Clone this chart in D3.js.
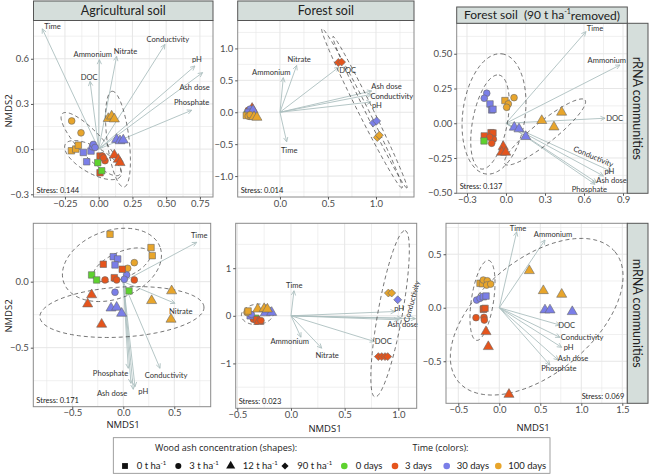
<!DOCTYPE html>
<html><head><meta charset="utf-8">
<script src="https://cdn.jsdelivr.net/npm/d3@7"></script>
<style>
body{margin:0;background:#fff}
svg{font-family:Lato,"Open Sans",sans-serif;font-weight:400}
text{font-weight:400}
</style>
</head><body>
<svg id="c" width="650" height="475"></svg>
<script>
// ---------- DATA ----------
// levels
const ashLevels = ["0", "3", "12", "90"];              // t ha-1 (shape)
const dayLevels = ["0 days", "3 days", "30 days", "100 days"]; // colour
const dayColors = ["#5ed22e", "#e5541c", "#7a7ee8", "#e8a52b"];

// points: [NMDS1, NMDS2, ashIndex, dayIndex]
const agriRrnaPts = [
  [-0.200,0.187,1,3],[-0.131,0.108,1,3],
  [-0.202,-0.011,0,3],[-0.170,0.000,0,3],[-0.151,0.026,0,3],
  [0.071,0.203,2,3],[0.096,0.219,2,3],[0.116,0.200,2,3],
  [-0.114,-0.022,0,2],[-0.057,-0.013,0,2],[-0.089,-0.084,0,2],
  [-0.047,0.015,1,2],[-0.040,0.031,1,2],[-0.027,0.011,1,2],
  [0.133,0.064,2,2],[0.158,0.055,2,2],[0.182,0.060,2,2],
  [0.010,-0.046,0,1],[0.010,-0.157,0,1],
  [0.027,-0.046,1,1],[0.047,-0.077,1,1],[0.035,-0.058,1,1],
  [0.116,-0.040,2,1],[0.145,-0.068,2,1],[0.158,-0.090,2,1],
  [-0.007,-0.090,0,0],[0.022,-0.144,0,0]
];
const forestRrnaPts = [
  [-0.34,-0.03,0,0],
  [-0.33,0.03,1,1],[-0.31,0.01,0,1],[-0.29,0.06,2,1],
  [-0.31,0.05,1,2],[-0.33,0.00,0,2],[-0.28,0.03,2,2],
  [-0.35,-0.05,0,3],[-0.33,-0.06,1,3],[-0.30,-0.06,0,3],[-0.31,-0.04,1,3],[-0.27,-0.07,2,3],[-0.24,-0.08,2,3],
  [0.608,0.780,3,1],[0.642,0.786,3,1],
  [0.972,-0.167,3,2],[1.007,-0.136,3,2],
  [1.014,-0.395,3,3],[1.035,-0.360,3,3]
];
const removedRrnaPts = [
  [-0.148,0.216,1,2],[-0.167,0.180,1,2],
  [-0.123,0.139,0,2],[-0.110,0.096,0,2],[-0.100,0.100,0,2],
  [-0.008,0.163,0,3],
  [0.018,0.139,1,3],[0.005,0.115,1,3],[0.062,0.184,1,3],
  [0.275,0.019,2,3],[0.428,0.079,2,3],[0.369,-0.027,2,3],
  [0.064,-0.029,2,2],[0.100,-0.041,2,2],[0.152,-0.096,2,2],
  [-0.167,-0.091,0,1],[-0.115,-0.068,0,1],[-0.100,-0.070,0,1],
  [-0.097,-0.115,1,1],[-0.110,-0.144,1,1],[-0.125,-0.100,1,1],
  [-0.169,-0.127,0,0],
  [-0.021,-0.168,2,1],[-0.033,-0.209,2,1],[-0.002,-0.209,2,1]
];
const agriMrnaPts = [
  [-0.130,0.359,0,3],[0.272,0.258,0,3],[0.284,0.197,0,3],
  [0.108,0.144,1,3],[0.043,0.101,1,3],
  [0.474,-0.070,2,3],[0.278,-0.144,2,3],[0.468,-0.285,2,3],
  [-0.098,0.189,0,2],[-0.055,0.172,0,2],[-0.081,0.127,0,2],
  [0.033,0.051,1,2],[0.010,0.018,1,2],[-0.081,-0.080,1,2],
  [-0.120,-0.200,2,2],[-0.065,-0.194,2,2],[-0.016,-0.240,2,2],
  [-0.196,0.132,0,1],[-0.010,0.094,0,1],[-0.088,0.030,0,1],
  [-0.179,0.013,1,1],[-0.065,0.013,1,1],[0.108,0.013,1,1],
  [-0.310,-0.100,2,1],[-0.349,-0.169,2,1],[-0.212,-0.323,2,1],
  [-0.310,0.051,0,0],[-0.261,0.013,0,0],[0.056,-0.070,0,0]
];
const forestMrnaPts = [
  [-0.33,-0.05,0,0],
  [-0.35,-0.07,1,1],[-0.32,-0.08,0,1],[-0.30,-0.12,2,1],[-0.28,-0.10,1,1],
  [-0.38,0.00,0,2],[-0.37,0.03,1,2],[-0.24,0.06,2,2],[-0.18,0.07,2,2],
  [-0.41,0.07,1,3],[-0.40,0.10,0,3],[-0.31,0.14,2,3],[-0.25,0.15,2,3],[-0.22,0.14,2,3],
  [0.907,0.478,3,3],[0.938,0.478,3,3],
  [0.994,0.337,3,2],
  [0.814,-0.857,3,1],[0.845,-0.857,3,1],[0.876,-0.857,3,1],[0.901,-0.857,3,1]
];
const removedMrnaPts = [
  [-0.235,0.228,0,3],[-0.205,0.225,0,3],
  [-0.195,0.259,1,3],[-0.146,0.252,1,3],[-0.154,0.212,1,3],[-0.105,0.221,1,3],
  [-0.276,0.072,1,2],[-0.235,0.088,1,2],[-0.195,0.103,0,2],[-0.162,0.109,0,2],
  [-0.190,-0.010,0,0],
  [-0.195,-0.015,0,1],[-0.174,-0.006,0,1],
  [-0.284,-0.093,1,1],[-0.187,-0.090,1,1],[-0.183,-0.115,1,1],
  [-0.162,-0.224,2,1],[-0.134,-0.364,2,1],[0.118,-0.810,2,1],
  [0.366,0.346,2,3],[0.537,0.159,2,3],[0.761,0.125,2,3],
  [0.557,-0.021,2,2],[0.618,-0.021,2,2],[0.890,-0.037,2,2]
];

// environmental vectors: [label, tipX, tipY, labelX, labelY, rotation]
const agriRrnaVec = [
  ["Time",-0.418,0.799,-0.342,0.815,0],
  ["Ammonium",0.005,0.594,-0.044,0.629,0],
  ["Nitrate",0.133,0.616,0.199,0.651,0],
  ["DOC",-0.064,0.450,-0.070,0.475,0],
  ["Conductivity",0.491,0.695,0.512,0.726,0],
  ["pH",0.713,0.552,0.728,0.594,0],
  ["Ash dose",0.770,0.508,0.711,0.413,0],
  ["Phosphate",0.689,0.258,0.689,0.309,0]
];
const forestRrnaVec = [
  ["Nitrate",0.174,0.734,0.200,0.823,0],
  ["Ammonium",0.035,0.542,-0.090,0.630,0],
  ["DOC",0.615,0.708,0.705,0.656,0],
  ["Ash dose",0.955,0.333,1.110,0.400,0],
  ["Conductivity",0.955,0.281,1.165,0.255,0],
  ["pH",0.948,0.161,1.010,0.115,0],
  ["Time",0.070,-0.464,0.096,-0.594,0]
];
const removedRrnaVec = [
  ["Time",0.615,0.659,0.685,0.683,0],
  ["Ammonium",0.877,0.419,0.775,0.455,0],
  ["DOC",0.762,0.036,0.836,0.036,0],
  ["Conductivity",0.813,-0.348,0.672,-0.240,23],
  ["pH",0.749,-0.379,0.795,-0.348,0],
  ["Ash dose",0.698,-0.427,0.812,-0.414,0],
  ["Phosphate",0.685,-0.439,0.641,-0.478,0]
];
const agriMrnaVec = [
  ["Time",0.720,0.298,0.744,0.354,0],
  ["Nitrate",0.507,-0.164,0.564,-0.222,0],
  ["Conductivity",0.360,-0.656,0.420,-0.707,0],
  ["Phosphate",0.049,-0.656,-0.125,-0.692,0],
  ["",0.075,-0.770,0,0,0],
  ["Ash dose",0.098,-0.815,-0.109,-0.845,0],
  ["pH",0.115,-0.795,0.196,-0.833,0]
];
const forestMrnaVec = [
  ["Time",0.028,0.526,0.030,0.638,0],
  ["Ammonium",0.093,-0.449,-0.012,-0.541,0],
  ["Nitrate",0.286,-0.680,0.337,-0.821,0],
  ["DOC",0.777,-0.540,0.860,-0.541,0],
  ["pH",0.969,0.090,1.008,0.147,0],
  ["Conductivity",1.030,-0.050,1.125,0.301,-75],
  ["",1.160,-0.060,0,0,0],
  ["Ash dose",1.000,-0.084,1.040,-0.189,0]
];
const removedMrnaVec = [
  ["Time",0.212,0.710,0.228,0.742,0],
  ["Ammonium",0.557,0.633,0.655,0.686,0],
  ["DOC",0.740,-0.162,0.822,-0.162,0],
  ["Conductivity",0.740,-0.277,1.011,-0.280,0],
  ["pH",0.761,-0.370,0.846,-0.374,0],
  ["Ash dose",0.720,-0.489,0.899,-0.470,0],
  ["Phosphate",0.618,-0.536,0.727,-0.570,0]
];

// ellipses: [cx, cy, axisA_x, axisA_y, axisB_x, axisB_y] (data units)
const agriRrnaEll = [
  [-0.057,0.033,0.212,-0.203,-0.065,-0.054],
  [-0.042,-0.073,0.205,-0.106,-0.048,-0.075],
  [0.143,0.066,-0.044,0.318,0.081,0.009]
];
const forestRrnaEll = [
  [0.854,0.0625,0.417,-1.25,-0.0466,-0.035],
  [0.9375,0.0,0.385,-1.1875,-0.0375,-0.027]
];
const removedRrnaEll = [
  [-0.092,0.067,0.0615,0.432,0.238,-0.029],
  [-0.123,0.009,0.069,0.338,0.131,-0.022],
  [0.300,-0.063,0.308,0.230,0.052,-0.061]
];
const agriMrnaEll = [
  [-0.111,0.127,0.471,0.136,-0.118,0.242],
  [-0.013,0.127,0.275,0.091,-0.049,0.091],
  [-0.013,-0.230,0.804,0.038,0.015,-0.189]
];
const forestMrnaEll = [
  [-0.312,0.032,0.149,0.042,0.014,-0.211],
  [0.923,0.042,0.140,1.747,0.112,-0.042]
];
const removedMrnaEll = [
  [-0.205,0.069,0.073,0.374,0.134,-0.014],
  [0.456,-0.084,0.955,0.607,0.444,-0.409]
];

// titles and ticks
const colTitles = ["Agricultural soil", "Forest soil", "Forest soil  (90 t ha", "-1", "removed)"];
const rowTitles = ["rRNA communities", "mRNA communities"];
const stressLabels = ["Stress: 0.144","Stress: 0.014","Stress: 0.137","Stress: 0.171","Stress: 0.023","Stress: 0.069"];
const xTicks = [
  [-0.25,0,0.25,0.5,0.75], [0,0.5,1.0], [-0.3,0,0.3,0.6,0.9],
  [-0.5,0,0.5], [-0.5,0,0.5,1.0], [-0.5,0,0.5,1.0,1.5]
];
const xTickLabels = [
  ["−0.25","0.00","0.25","0.50","0.75"], ["0.0","0.5","1.0"], ["−0.3","0.0","0.3","0.6","0.9"],
  ["−0.5","0.0","0.5"], ["−0.5","0.0","0.5","1.0"], ["−0.5","0.0","0.5","1.0","1.5"]
];
const yTicks = [
  [-0.3,0,0.3,0.6], [-1,-0.5,0,0.5,1], [-0.5,-0.25,0,0.25,0.5],
  [-0.5,0], [-1,0,1], [-0.5,0,0.5]
];
const yTickLabels = [
  ["−0.3","0.0","0.3","0.6"], ["−1.0","−0.5","0.0","0.5","1.0"], ["−0.50","−0.25","0.00","0.25","0.50"],
  ["−0.5","0.0"], ["−1","0","1"], ["−0.5","0.0","0.5"]
];

// ---------- LAYOUT ----------
const panels = [
  {pts:agriRrnaPts, vec:agriRrnaVec, ell:agriRrnaEll, box:[33.5,20.5,213,197], xd:[-0.483,0.847], yd:[-0.318,0.854]},
  {pts:forestRrnaPts, vec:forestRrnaVec, ell:forestRrnaEll, box:[237.7,20.5,414,197], xd:[-0.44,1.396], yd:[-1.328,1.4375]},
  {pts:removedRrnaPts, vec:removedRrnaVec, ell:removedRrnaEll, box:[456.7,23.3,627.3,193.3], xd:[-0.379,0.933], yd:[-0.504,0.719]},
  {pts:agriMrnaPts, vec:agriMrnaVec, ell:agriMrnaEll, box:[33.3,223.3,210.7,406.7], xd:[-0.882,0.857], yd:[-0.947,0.442]},
  {pts:forestMrnaPts, vec:forestMrnaVec, ell:forestMrnaEll, box:[235.7,223.3,416.7,408.3], xd:[-0.515,1.171], yd:[-1.943,1.943]},
  {pts:removedMrnaPts, vec:removedMrnaVec, ell:removedMrnaEll, box:[446,223.3,627.3,403.3], xd:[-0.65,1.561], yd:[-0.893,0.789]}
];
const stressRight = [false,false,false,false,false,true];

const svg = d3.select("#c");
const vecColor = "#adc0bf";
const gridColor = "#e6e6e6";
const titleFont = "'Open Sans', Lato, sans-serif";

function shapePath(ash, size){
  if (ash===0) return d3.symbol(d3.symbolSquare, size*1.0)();
  if (ash===1) return d3.symbol(d3.symbolCircle, size*0.85)();
  if (ash===2) return d3.symbol(d3.symbolTriangle, size*1.05)();
  return d3.symbol(d3.symbolSquare, size*0.75)();
}

panels.forEach((p, i) => {
  const [x0,y0,x1,y1] = p.box;
  const x = d3.scaleLinear().domain(p.xd).range([x0,x1]);
  const y = d3.scaleLinear().domain(p.yd).range([y1,y0]);
  const g = svg.append("g");
  const clipId = "clip"+i;
  svg.append("clipPath").attr("id",clipId).append("rect")
    .attr("x",x0).attr("y",y0).attr("width",x1-x0).attr("height",y1-y0);

  g.append("rect").attr("x",x0).attr("y",y0).attr("width",x1-x0).attr("height",y1-y0).attr("fill","#fff");

  // grid: major + minor
  const xt = xTicks[i], yt = yTicks[i];
  const xs = xt[1]-xt[0], ys = yt[1]-yt[0];
  const xMinor = [], yMinor = [];
  for (let v = xt[0]-xs/2; v <= p.xd[1]; v += xs) if (v >= p.xd[0]) xMinor.push(v);
  for (let v = yt[0]-ys/2; v <= p.yd[1]; v += ys) if (v >= p.yd[0]) yMinor.push(v);
  const grid = g.append("g");
  grid.selectAll(".vx").data(xMinor).join("line").attr("x1",d=>x(d)).attr("x2",d=>x(d)).attr("y1",y0).attr("y2",y1)
    .attr("stroke",gridColor).attr("stroke-width",0.6);
  grid.selectAll(".vy").data(yMinor).join("line").attr("y1",d=>y(d)).attr("y2",d=>y(d)).attr("x1",x0).attr("x2",x1)
    .attr("stroke",gridColor).attr("stroke-width",0.6);
  grid.selectAll(".mx").data(xt).join("line").attr("x1",d=>x(d)).attr("x2",d=>x(d)).attr("y1",y0).attr("y2",y1)
    .attr("stroke",gridColor).attr("stroke-width",1);
  grid.selectAll(".my").data(yt).join("line").attr("y1",d=>y(d)).attr("y2",d=>y(d)).attr("x1",x0).attr("x2",x1)
    .attr("stroke",gridColor).attr("stroke-width",1);

  const inner = g.append("g").attr("clip-path",`url(#${clipId})`);

  // vectors
  const ox = x(0), oy = y(0);
  p.vec.forEach(v => {
    const tx = x(v[1]), ty = y(v[2]);
    const ang = Math.atan2(ty-oy, tx-ox);
    const L = 5, a = 0.45;
    inner.append("line").attr("x1",ox).attr("y1",oy).attr("x2",tx).attr("y2",ty)
      .attr("stroke",vecColor).attr("stroke-width",0.9);
    inner.append("path")
      .attr("d",`M${tx-L*Math.cos(ang-a)},${ty-L*Math.sin(ang-a)}L${tx},${ty}L${tx-L*Math.cos(ang+a)},${ty-L*Math.sin(ang+a)}`)
      .attr("fill","none").attr("stroke",vecColor).attr("stroke-width",0.9);
  });

  // ellipses
  const line = d3.line().x(d=>x(d[0])).y(d=>y(d[1])).curve(d3.curveLinearClosed);
  p.ell.forEach(e => {
    const pts = d3.range(0, 2*Math.PI, Math.PI/60).map(t =>
      [e[0]+e[2]*Math.cos(t)+e[4]*Math.sin(t), e[1]+e[3]*Math.cos(t)+e[5]*Math.sin(t)]);
    inner.append("path").attr("d",line(pts)).attr("fill","none")
      .attr("stroke","#3a3a3a").attr("stroke-width",0.7).attr("stroke-dasharray","4,3");
  });

  // points
  inner.selectAll(".pt").data(p.pts).join("path")
    .attr("d",d=>shapePath(d[2], 42))
    .attr("transform",d=>`translate(${x(d[0])},${y(d[1])})${d[2]===3?" rotate(45)":""}`)
    .attr("fill",d=>dayColors[d[3]]).attr("stroke","#6a6a6a").attr("stroke-width",0.6);

  // vector labels
  p.vec.forEach(v => {
    if (!v[0]) return;
    const lx = x(v[3]), ly = y(v[4]);
    g.append("text").attr("x",lx).attr("y",ly).attr("text-anchor","middle").attr("dy","0.35em")
      .attr("transform", v[5] ? `rotate(${v[5]},${lx},${ly})` : null)
      .attr("font-size",7.6).attr("fill","#333").text(v[0]);
  });

  // stress
  g.append("text").attr("x", stressRight[i] ? x1-3 : x0+3).attr("y", y1-4)
    .attr("text-anchor", stressRight[i] ? "end":"start")
    .attr("font-size",7.5).attr("fill","#222").text(stressLabels[i]);

  // border
  g.append("rect").attr("x",x0).attr("y",y0).attr("width",x1-x0).attr("height",y1-y0)
    .attr("fill","none").attr("stroke","#8a8a8a").attr("stroke-width",1);

  // axes
  const ax = d3.axisBottom(x).tickValues(xt).tickFormat((d,k)=>xTickLabels[i][k]).tickSize(2.5).tickPadding(1.2);
  const ay = d3.axisLeft(y).tickValues(yt).tickFormat((d,k)=>yTickLabels[i][k]).tickSize(2.5).tickPadding(2);
  const gx = g.append("g").attr("transform",`translate(0,${y1})`).call(ax);
  const gy = g.append("g").attr("transform",`translate(${x0},0)`).call(ay);
  [gx,gy].forEach(a => {
    a.select(".domain").remove();
    a.selectAll("line").attr("stroke","#555");
    a.selectAll("text").attr("font-size",9.5).attr("fill","#4d4d4d").attr("font-family","Lato, sans-serif");
  });
  gx.selectAll("text").attr("dy","0.62em");
});

// column strips
const strips = [[33.5,1,213,20.5],[237.7,1,414,20.5],[456.7,7,627.3,23.3]];
strips.forEach((s,k) => {
  svg.append("rect").attr("x",s[0]).attr("y",s[1]).attr("width",s[2]-s[0]).attr("height",s[3]-s[1])
    .attr("fill","#d5dedb").attr("stroke","#555").attr("stroke-width",1);
  const t = svg.append("text").attr("x",(s[0]+s[2])/2).attr("y",(s[1]+s[3])/2).attr("dy","0.36em")
    .attr("text-anchor","middle").attr("font-size",12.5).attr("fill","#222");
  if (k < 2) t.text(colTitles[k]);
  else {
    t.attr("font-size",12);
    t.append("tspan").text(colTitles[2]).attr("xml:space","preserve");
    t.append("tspan").text(colTitles[3]).attr("font-size",7).attr("dy","-0.75em");
    t.append("tspan").text(colTitles[4]).attr("dy","0.5em");
  }
});
// row strips
const rstrips = [[627.3,23.3,648,193.3],[627.3,223.3,648,403.3]];
rstrips.forEach((s,k) => {
  svg.append("rect").attr("x",s[0]).attr("y",s[1]).attr("width",s[2]-s[0]).attr("height",s[3]-s[1])
    .attr("fill","#d5dedb").attr("stroke","#555").attr("stroke-width",1);
  const cx=(s[0]+s[2])/2, cy=(s[1]+s[3])/2;
  svg.append("text").attr("x",cx).attr("y",cy).attr("dy","0.36em").attr("text-anchor","middle")
    .attr("transform",`rotate(90,${cx},${cy})`).attr("font-size",12.5).attr("fill","#222").text(rowTitles[k]);
});

// axis titles
[[9,111],[9,316]].forEach(p => svg.append("text").attr("x",p[0]).attr("y",p[1]).attr("dy","0.36em")
  .attr("text-anchor","middle").attr("transform",`rotate(-90,${p[0]},${p[1]})`)
  .attr("font-family",titleFont).attr("font-size",9.5).attr("fill","#222").text("NMDS2"));
[[123,425],[325,429],[533,428]].forEach(p => svg.append("text").attr("x",p[0]).attr("y",p[1]).attr("dy","0.36em")
  .attr("text-anchor","middle").attr("font-family",titleFont).attr("font-size",9.5).attr("fill","#222").text("NMDS1"));

// legend
const lg = svg.append("g");
lg.append("rect").attr("x",113.3).attr("y",437.7).attr("width",436.7).attr("height",35.6)
  .attr("fill","#fff").attr("stroke","#888").attr("stroke-width",0.8);
lg.append("text").attr("x",226).attr("y",448).attr("dy","0.36em").attr("text-anchor","middle")
  .attr("font-family",titleFont).attr("font-size",9).attr("fill","#222").text("Wood ash concentration (shapes):");
lg.append("text").attr("x",440.5).attr("y",448).attr("dy","0.36em").attr("text-anchor","middle")
  .attr("font-family",titleFont).attr("font-size",9).attr("fill","#222").text("Time (colors):");
const shapeKeyX = [125,178.3,230.7,285];
const shapeTextX = [136.7,189.3,242.7,297.3];
ashLevels.forEach((a,k) => {
  lg.append("path").attr("d",shapePath(k, 34))
    .attr("transform",`translate(${shapeKeyX[k]},466)${k===3?" rotate(45)":""}`).attr("fill","#111");
  const t = lg.append("text").attr("x",shapeTextX[k]).attr("y",466).attr("dy","0.36em").attr("font-size",9.5).attr("fill","#222");
  t.append("tspan").text(a+" t ha");
  t.append("tspan").text("-1").attr("font-size",6).attr("dy","-0.7em");
});
const colKeyX = [344.3,395,446.7,498.3];
const colTextX = [355.7,405,456.7,508.3];
dayLevels.forEach((d,k) => {
  lg.append("circle").attr("cx",colKeyX[k]).attr("cy",466).attr("r",3.3).attr("fill",dayColors[k]);
  lg.append("text").attr("x",colTextX[k]).attr("y",466).attr("dy","0.36em").attr("font-size",9.5).attr("fill","#222").text(d);
});
</script>
</body></html>
